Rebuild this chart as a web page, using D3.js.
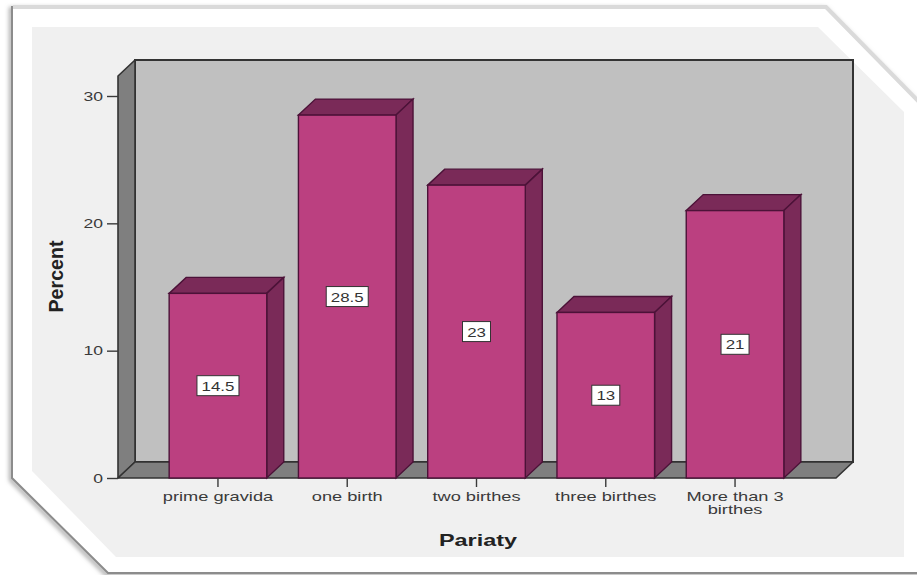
<!DOCTYPE html>
<html>
<head>
<meta charset="utf-8">
<script src="https://cdnjs.cloudflare.com/ajax/libs/d3/7.8.5/d3.min.js"></script>
<style>
html,body{margin:0;padding:0;background:#fff}
svg{display:block}
text{font-family:"Liberation Sans",Arial,sans-serif}
</style>
</head>
<body>
<svg id="chart" width="917" height="575"></svg>
<script>
// Pariety distribution, percent of respondents
const categories = ["prime gravida", "one birth", "two birthes", "three birthes", "More than 3 birthes"];
const percents = [14.5, 28.5, 23, 13, 21];
const percentLabels = ["14.5", "28.5", "23", "13", "21"];
const yTicks = [0, 10, 20, 30];

const svg = d3.select("#chart");
const depth = {x: 17, y: 16};
const plot = {left: 118, right: 836, top: 76, bottom: 478};
const ink = "#3a3a3a";
const wallLine = "#333";

const y = d3.scaleLinear().domain([0, 30]).range([plot.bottom, 96]);
const x = d3.scaleBand().domain(categories)
  .range([plot.left + 35, plot.left + 35 + 647]).paddingInner(0.245).paddingOuter(0.125);

const poly = pts => pts.map(p => p.join(",")).join(" ");

// Chamfered card behind the chart
const defs = svg.append("defs");
const soft = defs.append("filter").attr("id", "soft").attr("x", "-5%").attr("y", "-5%").attr("width", "110%").attr("height", "110%");
soft.append("feGaussianBlur").attr("stdDeviation", 2.2);

const card = [[12, 7], [826, 7], [925, 108], [925, 573], [108, 573], [12, 478]];
svg.append("polygon").attr("points", poly(card.map(([a, b]) => [a - 1, b + 2])))
  .attr("fill", "none").attr("stroke", "#aaa").attr("stroke-width", 4).attr("filter", "url(#soft)");
svg.append("polygon").attr("points", poly(card))
  .attr("fill", "#fff").attr("stroke", "#8c8c8c").attr("stroke-width", 2);
// The upper edge of the card catches the light
svg.append("polyline").attr("points", poly([[13, 7], [826, 7], [925, 108]]))
  .attr("fill", "none").attr("stroke", "#dadada").attr("stroke-width", 4);
svg.append("polygon")
  .attr("points", poly([[32, 27], [818, 27], [904, 112], [904, 557], [116, 557], [32, 471]]))
  .attr("fill", "#f0f0f0");

// 3D plot box: back wall, left wall, floor
const back = {l: plot.left + depth.x, r: plot.right + depth.x, t: plot.top - depth.y, b: plot.bottom - depth.y};
svg.append("rect").attr("x", back.l).attr("y", back.t)
  .attr("width", back.r - back.l).attr("height", back.b - back.t)
  .attr("fill", "#c0c0c0").attr("stroke", wallLine).attr("stroke-width", 2);
svg.append("polygon")
  .attr("points", poly([[plot.left, plot.top], [back.l, back.t], [back.l, back.b], [plot.left, plot.bottom]]))
  .attr("fill", "#7f7f7f").attr("stroke", wallLine).attr("stroke-width", 1.6).attr("stroke-linejoin", "round");
svg.append("polygon")
  .attr("points", poly([[plot.left, plot.bottom], [plot.right, plot.bottom], [back.r, back.b], [back.l, back.b]]))
  .attr("fill", "#7f7f7f").attr("stroke", wallLine).attr("stroke-width", 1.6).attr("stroke-linejoin", "round");

// Bars, each with a front, top and side face
const bars = svg.append("g").selectAll("g").data(categories).enter().append("g");
const edge = "#4c1238";
bars.append("polygon")
  .attr("points", (c, i) => {
    const l = x(c), r = l + x.bandwidth(), t = y(percents[i]);
    return poly([[l, t], [l + depth.x, t - depth.y], [r + depth.x, t - depth.y], [r, t]]);
  })
  .attr("fill", "#7a2a58").attr("stroke", edge).attr("stroke-width", 1.4);
bars.append("polygon")
  .attr("points", (c, i) => {
    const r = x(c) + x.bandwidth(), t = y(percents[i]);
    return poly([[r, t], [r + depth.x, t - depth.y], [r + depth.x, y(0) - depth.y], [r, y(0)]]);
  })
  .attr("fill", "#7a2a58").attr("stroke", edge).attr("stroke-width", 1.4);
bars.append("rect")
  .attr("x", c => x(c)).attr("width", x.bandwidth())
  .attr("y", (c, i) => y(percents[i])).attr("height", (c, i) => y(0) - y(percents[i]))
  .attr("fill", "#bb4080").attr("stroke", edge).attr("stroke-width", 1.4);

// Value tags at mid-height of each bar
const tagWidth = d3.scaleOrdinal().domain(["14.5", "28.5", "23", "13", "21"]).range([42, 42, 28, 28, 28]);
bars.append("rect")
  .attr("x", (c, i) => x(c) + x.bandwidth() / 2 - tagWidth(percentLabels[i]) / 2)
  .attr("y", (c, i) => y(percents[i] / 2) - 10)
  .attr("width", (c, i) => tagWidth(percentLabels[i])).attr("height", 20)
  .attr("fill", "#fff").attr("stroke", "#333").attr("stroke-width", 1);
bars.append("text")
  .attr("transform", (c, i) => `translate(${x(c) + x.bandwidth() / 2},${y(percents[i] / 2) + 5}) scale(1.25,1)`)
  .attr("text-anchor", "middle").attr("font-size", 13.5).attr("fill", "#333")
  .text((c, i) => percentLabels[i]);

// Value axis
const yAxis = svg.append("g").attr("transform", `translate(${plot.left},0)`)
  .call(d3.axisLeft(y).tickValues(yTicks).tickSize(11).tickPadding(4));
yAxis.select(".domain").remove();
yAxis.selectAll("line").attr("stroke", ink).attr("stroke-width", 1.4);
yAxis.selectAll("text")
  .attr("font-size", 13).attr("fill", ink)
  .attr("font-family", "Liberation Sans").attr("transform", "scale(1.35,1)")
  .attr("x", -15 / 1.35);

// Category axis
const xAxis = svg.append("g").attr("transform", `translate(0,${plot.bottom})`)
  .call(d3.axisBottom(x).tickSize(9).tickFormat(""));
xAxis.select(".domain").remove();
xAxis.selectAll("line").attr("stroke", ink).attr("stroke-width", 1.4);

// Category labels; the long one breaks after "3"
const catLabels = svg.append("g").selectAll("text").data(categories).enter().append("text")
  .attr("transform", c => `translate(${x(c) + x.bandwidth() / 2},501) scale(1.46,1)`)
  .attr("text-anchor", "middle").attr("font-size", 12.5).attr("fill", ink);
catLabels.each(function (c) {
  const m = c.match(/^(More than 3) (.+)$/);
  const t = d3.select(this);
  if (m) {
    t.append("tspan").attr("x", 0).attr("y", 0).text(m[1]);
    t.append("tspan").attr("x", 0).attr("y", 13).text(m[2]);
  } else t.text(c);
});

// Axis titles
svg.append("text").attr("transform", "translate(63,276.5) rotate(-90) scale(1.09,1.15)")
  .attr("text-anchor", "middle").attr("font-size", 18).attr("font-weight", "bold").attr("fill", "#222").text("Percent");
svg.append("text").attr("transform", "translate(478,546) scale(1.42,1.05)")
  .attr("text-anchor", "middle").attr("font-size", 16.5).attr("font-weight", "bold").attr("fill", "#222").text("Pariaty");
</script>
</body>
</html>
